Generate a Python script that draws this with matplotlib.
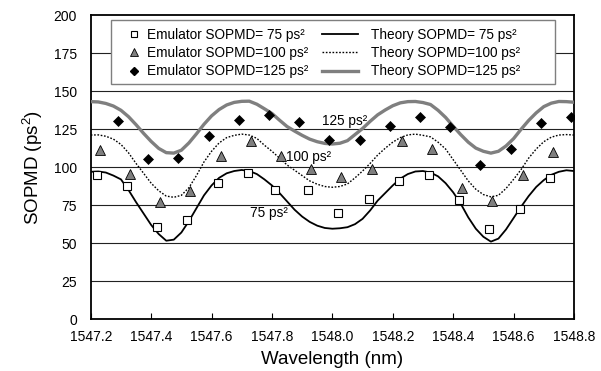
import numpy as np
import matplotlib
matplotlib.use("Agg")
import matplotlib.pyplot as plt
from matplotlib.lines import Line2D
from matplotlib.patches import Rectangle

plt.rcParams['font.family'] = ['Liberation Sans', 'DejaVu Sans']
plt.rcParams['mathtext.fontset'] = 'custom'
plt.rcParams['mathtext.rm'] = 'Liberation Sans'
plt.rcParams['mathtext.it'] = 'Liberation Sans:italic'

# ---------------- data ----------------
emu75_x = [1547.22, 1547.32, 1547.42, 1547.52, 1547.62, 1547.72, 1547.81, 1547.92,
           1548.02, 1548.12, 1548.22, 1548.32, 1548.42, 1548.52, 1548.62, 1548.72]
emu75_y = [94.7, 87.5, 60.5, 65.1, 89.3, 96.1, 85.3, 84.7,
           69.9, 79.1, 90.8, 94.7, 78.3, 59.0, 72.2, 92.6]

emu100_x = [1547.23, 1547.33, 1547.43, 1547.53, 1547.63, 1547.73, 1547.83, 1547.93,
            1548.03, 1548.13, 1548.23, 1548.33, 1548.43, 1548.53, 1548.63, 1548.73]
emu100_y = [111.2, 95.4, 77.0, 84.2, 107.2, 117.1, 107.2, 99.1,
            93.8, 99.1, 117.1, 111.8, 86.6, 77.8, 95.2, 110.1]

emu125_x = [1547.29, 1547.39, 1547.49, 1547.59, 1547.69, 1547.79, 1547.89, 1547.99,
            1548.09, 1548.19, 1548.29, 1548.39, 1548.49, 1548.59, 1548.69, 1548.79]
emu125_y = [130.5, 105.3, 106.4, 120.6, 131.4, 134.2, 129.8, 118.2,
            118.2, 127.0, 133.1, 126.5, 101.3, 111.8, 129.1, 133.1]

theory_x = np.linspace(1547.2, 1548.8, 65)
theory75 = [97.0, 97.2, 96.5, 94.5, 92.0, 85.0, 77.0, 69.5, 62.0, 56.0, 51.6, 52.3, 57.0,
            64.5, 73.0, 81.5, 88.0, 93.0, 96.0, 97.5, 98.2, 97.5, 95.5, 92.0, 88.0, 83.0,
            77.5, 72.0, 67.5, 64.0, 61.5, 60.0, 59.5, 59.8, 60.5, 62.5, 66.0, 71.5, 78.0,
            83.0, 88.0, 92.5, 95.5, 97.2, 97.5, 96.5, 94.0, 89.5, 83.5, 76.0, 67.0, 59.5,
            54.2, 51.0, 53.0, 59.0, 66.5, 74.0, 81.0, 87.0, 91.5, 95.0, 97.0, 98.0, 97.5]
theory100 = [121.2, 121.3, 120.4, 118.5, 115.0, 109.5, 102.5, 96.0, 89.5, 84.5, 81.0, 80.2,
             81.5, 86.5, 94.5, 103.5, 110.5, 116.0, 119.5, 121.0, 121.8, 121.2, 119.0, 114.5,
             110.5, 106.0, 101.5, 98.0, 94.5, 91.0, 88.8, 87.3, 86.8, 87.3, 89.0, 93.0, 97.5,
             102.5, 108.0, 112.5, 116.5, 119.5, 121.3, 121.8, 121.0, 120.0, 116.5, 112.0,
             105.0, 98.0, 91.0, 85.5, 82.0, 80.5, 81.5, 86.0, 92.0, 98.5, 106.0, 112.0,
             116.8, 119.8, 121.2, 121.5, 121.2]
theory125 = [143.2, 143.0, 142.0, 140.3, 137.5, 133.3, 128.0, 122.3, 117.0, 112.4, 109.6,
             109.3, 111.2, 116.0, 122.0, 128.3, 133.8, 138.0, 141.0, 142.7, 143.4, 143.5,
             141.5, 138.5, 135.4, 131.0, 126.8, 123.8, 121.0, 118.5, 116.8, 115.7, 115.3,
             115.8, 117.5, 121.5, 125.5, 130.2, 134.5, 137.7, 140.5, 142.4, 143.2, 143.3,
             142.6, 141.3, 137.5, 132.8, 127.0, 121.5, 116.5, 112.6, 110.5, 109.3, 110.5,
             114.0, 118.8, 125.0, 130.8, 135.8, 139.9, 142.2, 143.3, 143.2, 142.8]

x_ticks = [1547.2, 1547.4, 1547.6, 1547.8, 1548.0, 1548.2, 1548.4, 1548.6, 1548.8]
y_ticks = [0, 25, 50, 75, 100, 125, 150, 175, 200]

emu_labels = ['Emulator SOPMD= 75 ps\u00b2', 'Emulator SOPMD=100 ps\u00b2',
              'Emulator SOPMD=125 ps\u00b2']
theory_labels = ['Theory SOPMD= 75 ps\u00b2', 'Theory SOPMD=100 ps\u00b2',
                 'Theory SOPMD=125 ps\u00b2']
annot_texts = ['75 ps\u00b2', '100 ps\u00b2', '125 ps\u00b2']
annot_x = [1547.727, 1547.845, 1547.967]
annot_y = [69.6, 106.9, 130.6]

# ---------------- figure ----------------
fig = plt.figure(figsize=(6.01, 3.71), dpi=100)
ax = fig.add_axes([0.151, 0.140, 0.804, 0.8185])

for yv in y_ticks[1:-1]:
    ax.axhline(yv, color='#222222', lw=0.8, zorder=1)

gray = '#7f7f7f'
ax.plot(theory_x, theory75, color='black', lw=1.3, zorder=3)
ax.plot(theory_x, theory100, color='black', lw=1.0, ls=(0, (1.2, 1.2)), zorder=3)
ax.plot(theory_x, theory125, color=gray, lw=2.4, zorder=3)

ax.plot(emu75_x, emu75_y, ls='none', marker='s', ms=6.0, mfc='white', mec='black',
        mew=0.8, zorder=4)
ax.plot(emu100_x, emu100_y, ls='none', marker='^', ms=7.0, mfc=gray, mec='black',
        mew=0.6, zorder=4)
ax.plot(emu125_x, emu125_y, ls='none', marker='D', ms=5.5, mfc='black', mec='black',
        mew=0.5, zorder=4)

for t, xv, yv in zip(annot_texts, annot_x, annot_y):
    ax.text(xv, yv, t, fontsize=9.8, ha='left', va='center', zorder=5)

ax.set_xlim(1547.2, 1548.8)
ax.set_ylim(0, 200)
ax.set_xticks(x_ticks)
ax.set_xticklabels(['%.1f' % v for v in x_ticks])
ax.set_yticks(y_ticks)
ax.tick_params(axis='x', direction='in', length=4.5, width=0.8, labelsize=10, pad=8)
ax.tick_params(axis='y', length=0, labelsize=10, pad=10)
for s in ax.spines.values():
    s.set_linewidth(1.3)
ax.set_xlabel('Wavelength (nm)', fontsize=13.5, labelpad=5)
ax.set_ylabel(r'SOPMD (ps$^2$)', fontsize=13.5, labelpad=6)

# legend box
ax.add_patch(Rectangle((0.042, 0.774), 0.9187, 0.211, transform=ax.transAxes,
                       facecolor='white', edgecolor=gray, lw=1.0, zorder=6))

emu_handles = [
    Line2D([], [], ls='none', marker='s', ms=5, mfc='white', mec='black', mew=0.8),
    Line2D([], [], ls='none', marker='^', ms=6, mfc=gray, mec='black', mew=0.6),
    Line2D([], [], ls='none', marker='D', ms=4.5, mfc='black', mec='black'),
]
th_handles = [
    Line2D([], [], color='black', lw=1.3),
    Line2D([], [], color='black', lw=1.0, ls=(0, (1.2, 1.2))),
    Line2D([], [], color=gray, lw=2.4),
]
leg1 = ax.legend(emu_handles, emu_labels, loc='upper left', bbox_to_anchor=(0.076, 0.958),
                 frameon=False, fontsize=9.8, handlelength=1.0, handletextpad=0.4,
                 labelspacing=0.3, borderpad=0, borderaxespad=0, numpoints=1)
leg1.set_zorder(7)
ax.add_artist(leg1)
leg2 = ax.legend(th_handles, theory_labels, loc='upper left', bbox_to_anchor=(0.479, 0.958),
                 frameon=False, fontsize=9.8, handlelength=2.65, handletextpad=0.9,
                 labelspacing=0.3, borderpad=0, borderaxespad=0)
leg2.set_zorder(7)

fig.savefig('out.png', dpi=100)
